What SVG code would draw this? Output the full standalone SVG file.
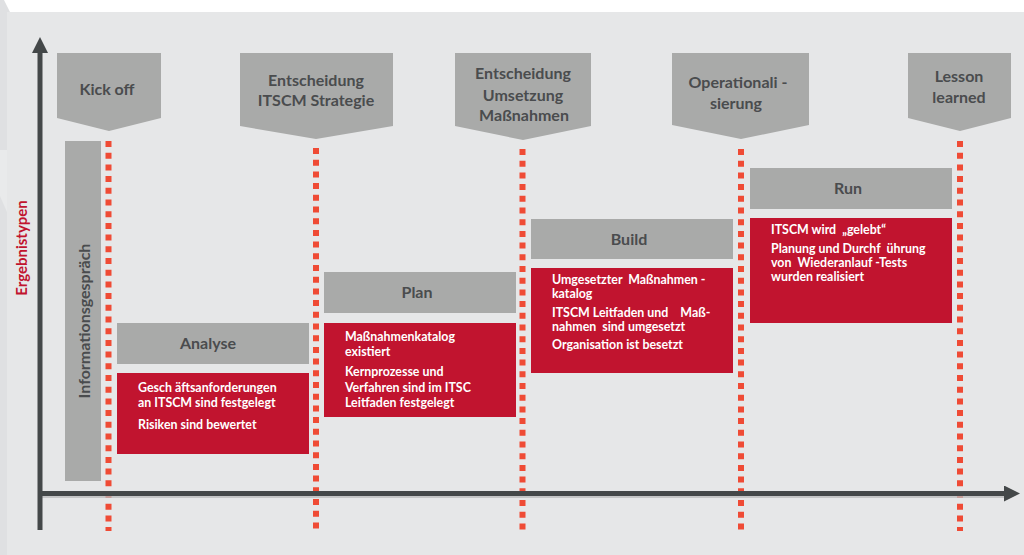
<svg xmlns="http://www.w3.org/2000/svg" width="1024" height="555" viewBox="0 0 1024 555">
<defs>
<style>
.bg{fill:#e6e7e8}
.gate{fill:#a9aaa9}
.phase{fill:#a9aaa9}
.res{fill:#c1142f}
.ht{font-family:Lato,"Liberation Sans",sans-serif;font-weight:700;font-size:16px;fill:#4a4c4e;text-anchor:middle}
.rt{font-family:Lato,"Liberation Sans",sans-serif;font-weight:700;font-size:12.4px;fill:#ffffff;white-space:pre}
.ms{stroke:#ef4b35;stroke-width:6;stroke-dasharray:6 5.7;fill:none}
.ax{stroke:#444849;stroke-width:5;fill:none}
</style>
<marker id="ah" viewBox="0 0 16 16" refX="1" refY="8" markerWidth="16" markerHeight="16" markerUnits="userSpaceOnUse" orient="auto">
<path d="M0,0 L16,8 L0,16 Z" fill="#444849"/>
</marker>
</defs>
<rect x="0" y="0" width="1024" height="555" fill="#ffffff"/>
<rect class="bg" x="0" y="12" width="1024" height="543"/>
<polygon points="0,0 4,0 10,12 7,12 7,555 0,555" fill="#dfe0e2"/>
<polygon points="0,150 7,150 7,212 0,196" fill="#e9eaeb"/>

<g id="connectors">
<line class="ms" x1="108.5" y1="141" x2="108.5" y2="531"/>
<line class="ms" x1="316" y1="148" x2="316" y2="531"/>
<line class="ms" x1="522.5" y1="149" x2="522.5" y2="531"/>
<line class="ms" x1="741" y1="149" x2="741" y2="531"/>
<line class="ms" x1="960" y1="141" x2="960" y2="531"/>
<line x1="40" y1="497" x2="1006" y2="497" stroke="#b9babb" stroke-width="1.5"/>
<line class="ax" x1="40" y1="530" x2="40" y2="52" marker-end="url(#ah)"/>
<line class="ax" x1="38" y1="493.5" x2="1005" y2="493.5" marker-end="url(#ah)"/>
</g>

<g id="kickoff">
<polygon class="gate" points="57,53 161,53 161,118 109,131 57,118"/>
<text class="ht" x="107" y="95">Kick off</text>
</g>
<g id="entscheidung-strategie">
<polygon class="gate" points="240,53 393,53 393,126 316,139 240,126"/>
<text class="ht" x="316" y="86">Entscheidung</text>
<text class="ht" x="316" y="106">ITSCM Strategie</text>
</g>
<g id="entscheidung-umsetzung">
<polygon class="gate" points="455,53 591,53 591,126 523,140 455,126"/>
<text class="ht" x="523" y="79">Entscheidung</text>
<text class="ht" x="523" y="101">Umsetzung</text>
<text class="ht" x="524" y="121">Maßnahmen</text>
</g>
<g id="operationalisierung">
<polygon class="gate" points="672,53 809,53 809,125 741,139 672,125"/>
<text class="ht" x="738" y="88" style="white-space:pre">Operationali -</text>
<text class="ht" x="736" y="109">sierung</text>
</g>
<g id="lesson-learned">
<polygon class="gate" points="908,53 1011,53 1011,118 960,131 908,118"/>
<text class="ht" x="959" y="82">Lesson</text>
<text class="ht" x="959" y="103">learned</text>
</g>

<g id="ergebnistypen">
<text x="21" y="248" transform="rotate(-90 21 248)" font-family="Lato,'Liberation Sans',sans-serif" font-weight="700" font-size="15" fill="#c1142f" text-anchor="middle" dominant-baseline="central">Ergebnistypen</text>
</g>

<g id="informationsgespraech">
<rect class="phase" x="65" y="141" width="36" height="340"/>
<text x="83" y="321" transform="rotate(-90 83 321)" font-family="Lato,'Liberation Sans',sans-serif" font-weight="700" font-size="16" fill="#4a4c4e" text-anchor="middle" dominant-baseline="central">Informationsgespräch</text>
</g>

<g id="analyse">
<rect class="phase" x="117" y="323" width="192" height="41"/>
<text class="ht" x="208" y="349">Analyse</text>
<rect class="res" x="117" y="373" width="192" height="81"/>
<text class="rt" x="138" y="392">Gesch äftsanforderungen</text>
<text class="rt" x="138" y="407">an ITSCM sind festgelegt</text>
<text class="rt" x="138" y="429">Risiken sind bewertet</text>
</g>

<g id="plan">
<rect class="phase" x="324" y="272" width="192" height="41"/>
<text class="ht" x="417" y="298">Plan</text>
<rect class="res" x="324" y="323" width="192" height="94"/>
<text class="rt" x="345" y="341">Maßnahmenkatalog</text>
<text class="rt" x="345" y="356">existiert</text>
<text class="rt" x="345" y="376">Kernprozesse und</text>
<text class="rt" x="345" y="392">Verfahren sind im ITSC</text>
<text class="rt" x="345" y="407">Leitfaden festgelegt</text>
</g>

<g id="build">
<rect class="phase" x="531" y="219" width="202" height="40"/>
<text class="ht" x="629" y="245">Build</text>
<rect class="res" x="531" y="268" width="202" height="105"/>
<text class="rt" x="552" y="284">Umgesetzter  Maßnahmen -</text>
<text class="rt" x="552" y="298">katalog</text>
<text class="rt" x="552" y="317">ITSCM Leitfaden und    Maß-</text>
<text class="rt" x="552" y="331">nahmen  sind umgesetzt</text>
<text class="rt" x="552" y="349">Organisation ist besetzt</text>
</g>

<g id="run">
<rect class="phase" x="750" y="168" width="202" height="41"/>
<text class="ht" x="848" y="194">Run</text>
<rect class="res" x="750" y="218" width="202" height="105"/>
<text class="rt" x="771" y="234">ITSCM wird  „gelebt“</text>
<text class="rt" x="771" y="253">Planung und Durchf  ührung</text>
<text class="rt" x="771" y="267">von  Wiederanlauf -Tests</text>
<text class="rt" x="771" y="281">wurden realisiert</text>
</g>
</svg>
